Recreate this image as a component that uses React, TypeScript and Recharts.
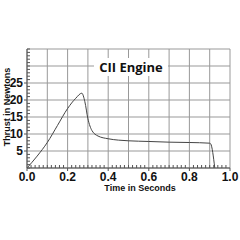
import { CartesianGrid, Line, LineChart, XAxis, YAxis } from "recharts";

const times = [0, 0.05, 0.1, 0.15, 0.2, 0.24, 0.27, 0.285, 0.3, 0.32, 0.35, 0.4, 0.45, 0.5, 0.6, 0.7, 0.8, 0.9, 0.905, 0.925];
const thrust = [0, 3.5, 7.5, 12.5, 17.5, 20.5, 22, 19.5, 14.5, 11, 9.4, 8.6, 8.2, 8.0, 7.8, 7.6, 7.5, 7.3, 7.1, 0];

const xLabelTicks = [0, 0.2, 0.4, 0.6, 0.8, 1.0];
const xGrid = [0, 0.1, 0.2, 0.3, 0.4, 0.5, 0.6, 0.7, 0.8, 0.9, 1.0];
const xMinor = Array.from({ length: 51 }, (_, i) => i / 50);
const yLabelTicks = [5, 10, 15, 20, 25];
const yGrid = [0, 5, 10, 15, 20, 25, 30, 35];
const yMinor = Array.from({ length: 36 }, (_, i) => i);

const data = times.map((t, i) => ({ t, thrust: thrust[i] }));

const axisColor = "#555";
const gridColor = "#999";
const textStyle = { fontSize: 12, fontWeight: 700, fill: "#111", fontFamily: "Liberation Sans" };

const isLabelX = (v: number) => xLabelTicks.some((m) => Math.abs(m - v) < 1e-6);

function XTick({ x, y, payload }: any) {
  const v = payload.value as number;
  if (isLabelX(v)) {
    return (
      <g>
        <line x1={x} x2={x} y1={y} y2={y + 3} stroke={axisColor} />
        <text x={x} y={y + 4} dy="0.71em" textAnchor="middle" style={textStyle}>{v.toFixed(1)}</text>
      </g>
    );
  }
  return <line x1={x} x2={x} y1={y} y2={y - 3} stroke={axisColor} />;
}

function YTick({ x, y, payload }: any) {
  const v = payload.value as number;
  if (yLabelTicks.includes(v)) {
    return (
      <g>
        <line x1={x - 3} x2={x} y1={y} y2={y} stroke={axisColor} />
        <text x={x - 4} y={y} dy="0.355em" textAnchor="end" style={textStyle}>{v}</text>
      </g>
    );
  }
  return <line x1={x} x2={x + 3} y1={y} y2={y} stroke={axisColor} />;
}

export default function App() {
  return (
    <div style={{ position: "absolute", left: 0, top: 0, width: 240, height: 240, background: "#fff" }}>
      <LineChart width={240} height={240} data={data} margin={{ top: 49, right: 10, left: 0, bottom: 42 }}>
        <CartesianGrid stroke={gridColor} strokeWidth={1} verticalValues={xGrid} horizontalValues={yGrid} />
        <XAxis type="number" dataKey="t" domain={[0, 1]} ticks={xMinor} height={30} interval={0}
          tick={<XTick />} tickSize={0} tickMargin={0} tickLine={false} axisLine={{ stroke: axisColor }} />
        <YAxis type="number" domain={[0, 35]} ticks={yMinor} width={27} interval={0}
          tick={<YTick />} tickSize={0} tickMargin={0} tickLine={false} axisLine={{ stroke: axisColor }} />
        <Line type="monotone" dataKey="thrust" stroke="#444" strokeWidth={1} dot={false} isAnimationActive={false} />
      </LineChart>
      <div style={{ position: "absolute", left: 94, top: 58, width: 74, height: 18, background: "#fff",
        fontFamily: "Open Sans", fontWeight: 700, fontSize: 13, lineHeight: "18px", textAlign: "center",
        color: "#111", whiteSpace: "nowrap" }}>
        CII Engine
      </div>
      <div style={{ position: "absolute", left: 90, top: 184, width: 100, textAlign: "center", lineHeight: "9px",
        fontFamily: "Liberation Sans", fontWeight: 700, fontSize: 9, color: "#111", whiteSpace: "nowrap" }}>
        Time in Seconds
      </div>
      <div style={{ position: "absolute", left: 7, top: 107, width: 0, height: 0 }}>
        <div style={{ position: "absolute", left: -50, top: -6, width: 100, textAlign: "center", transform: "rotate(-90deg)",
          fontFamily: "Liberation Sans", fontWeight: 700, fontSize: 9, lineHeight: "12px", color: "#111", whiteSpace: "nowrap" }}>
          Thrust in Newtons
        </div>
      </div>
    </div>
  );
}
